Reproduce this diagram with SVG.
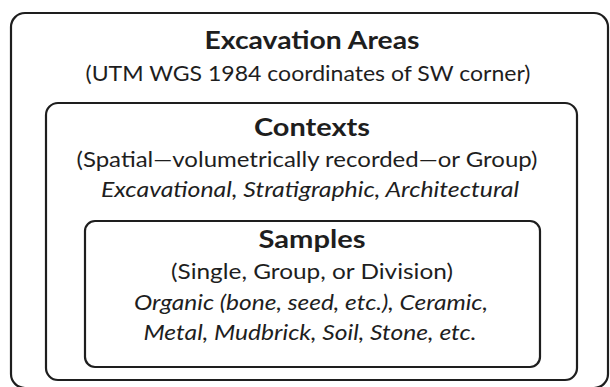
<svg xmlns="http://www.w3.org/2000/svg" width="610" height="387" viewBox="0 0 610 387">
<style>
.box{fill:none;stroke:#1e1e1e;stroke-width:2.2}
text{font-family:Lato,"Open Sans","Liberation Sans",sans-serif;fill:#1e1e1e;text-anchor:middle}
.t{font-weight:bold;font-size:25px}
.s{font-size:21.5px}
.i{font-size:21.5px;font-style:italic}
</style>
<rect width="610" height="387" fill="#ffffff"/>
<g id="excavation-areas">
<rect class="box" x="11" y="13" width="597" height="375" rx="14"/>
<text class="t" x="312" y="49" textLength="215" lengthAdjust="spacingAndGlyphs">Excavation Areas</text>
<text class="s" x="308" y="81" textLength="445" lengthAdjust="spacingAndGlyphs">(UTM WGS 1984 coordinates of SW corner)</text>
</g>
<g id="contexts">
<rect class="box" x="46" y="103" width="531" height="277" rx="12"/>
<text class="t" x="312" y="136" textLength="116" lengthAdjust="spacingAndGlyphs">Contexts</text>
<text class="s" x="307" y="167" textLength="461" lengthAdjust="spacingAndGlyphs">(Spatial—volumetrically recorded—or Group)</text>
<text class="i" x="310" y="197" textLength="418" lengthAdjust="spacingAndGlyphs">Excavational, Stratigraphic, Architectural</text>
</g>
<g id="samples">
<rect class="box" x="85" y="221" width="455" height="146" rx="10"/>
<text class="t" x="312" y="248" textLength="107" lengthAdjust="spacingAndGlyphs">Samples</text>
<text class="s" x="312" y="279" textLength="282" lengthAdjust="spacingAndGlyphs">(Single, Group, or Division)</text>
<text class="i" x="311" y="310" textLength="354" lengthAdjust="spacingAndGlyphs">Organic (bone, seed, etc.), Ceramic,</text>
<text class="i" x="310" y="340" textLength="333" lengthAdjust="spacingAndGlyphs">Metal, Mudbrick, Soil, Stone, etc.</text>
</g>
<g id="connectors"></g>
</svg>
